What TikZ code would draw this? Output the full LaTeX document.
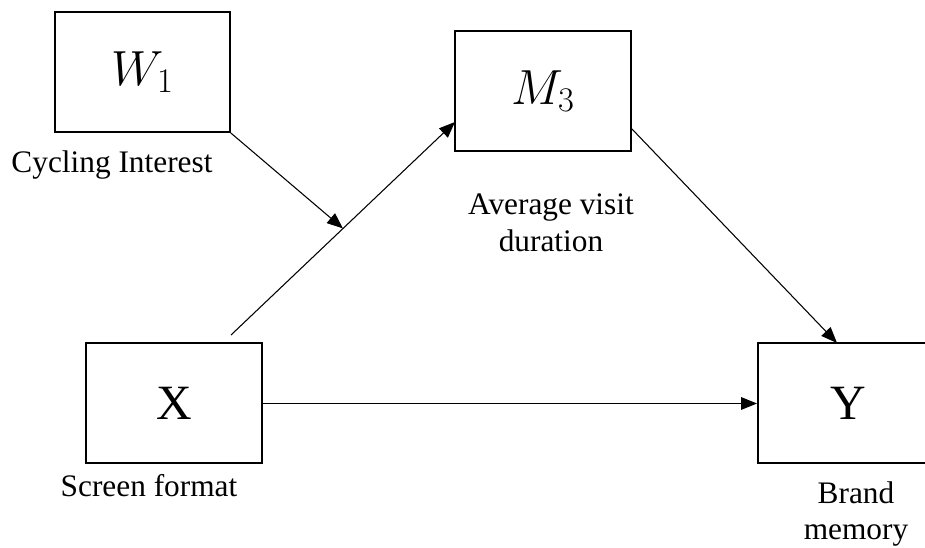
\RequirePackage{fix-cm}
\documentclass[tikz,border=0pt]{standalone}
\usepackage{fontspec}
\setmainfont{Liberation Serif}
\usetikzlibrary{arrows.meta,calc}

\begin{document}
\begin{tikzpicture}[x=0.75pt, y=-0.75pt,
    varbox/.style={rectangle, draw=black, line width=1.5pt,
                   minimum width=132pt, minimum height=90pt,
                   inner sep=0pt, font=\fontsize{37}{40}\selectfont},
    varlabel/.style={inner sep=0pt, align=center,
                     font=\fontsize{23.5}{27.5}\selectfont},
    arr/.style={-{Triangle[length=12pt, width=9.5pt]}, line width=0.8pt}
  ]
    \useasboundingbox (0,0) rectangle (925,548);
    \clip (0,0) rectangle (925,548);

    \node[varbox, minimum width=131pt] (W1) at (142.5,72) {$W_1$};
    \node[varbox] (M3) at (543,91) {$M_3$};
    \node[varbox] (X) at (174,403.5) {X};
    \node[varbox, minimum width=135pt] (Y) at (848,403.5) {Y};

    \node[varlabel, anchor=base] (w1lab) at (112,173) {Cycling Interest};
    \node[varlabel] (m3lab) at (551,222.5) {Average visit\\duration};
    \node[varlabel, anchor=base] (xlab) at (149,497) {Screen format};
    \node[varlabel] (ylab) at (856,514) {Brand\\memory};

    % path ends off the box borders
    \coordinate (xtop) at (231,335);
    \coordinate (m3in) at (455,122);
    \coordinate (mod) at ($(xtop)!0.5!(m3in)$);
    \coordinate (m3out) at (631,128);
    \coordinate (ytop) at (837,343);

    \draw[arr] (xtop) -- (m3in);
    \draw[arr] (W1.south east) -- (mod);
    \draw[arr] (m3out) -- (ytop);
    \draw[arr] (X.east) -- (Y.west);
  \end{tikzpicture}
\end{document}
